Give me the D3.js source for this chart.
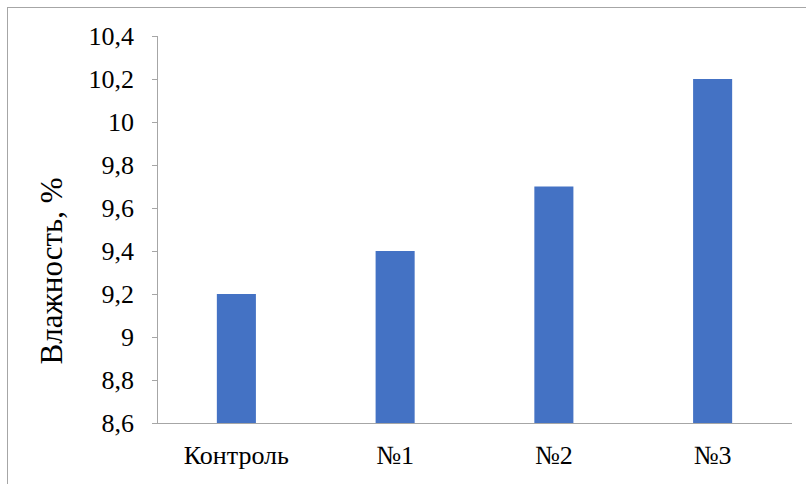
<!DOCTYPE html>
<html><head><meta charset="utf-8">
<script src="https://cdn.jsdelivr.net/npm/d3@7"></script>
<style>body{margin:0;background:#fff}svg{display:block}</style>
</head><body>
<svg id="c" width="806" height="484"></svg>
<script>
const categories = ["Контроль", "№1", "№2", "№3"];
const values = [9.2, 9.4, 9.7, 10.2];
const yTicks = [8.6, 8.8, 9.0, 9.2, 9.4, 9.6, 9.8, 10.0, 10.2, 10.4];
const yTitle = "Влажность, %";

const svg = d3.select("#c");
const W = 806, H = 484;
const m = {left: 157, right: 14, top: 36, bottom: 61};
const font = "Times New Roman";

svg.append("rect").attr("x", 7.5).attr("y", 7.5).attr("width", W).attr("height", H)
  .attr("fill", "#fff").attr("stroke", "#a6a6a6").attr("stroke-width", 1);

const x = d3.scaleBand().domain(categories).range([m.left, W - m.right]).paddingInner(0.754).paddingOuter(0.377);
const y = d3.scaleLinear().domain([8.6, 10.4]).range([H - m.bottom, m.top]);

svg.append("g").selectAll("rect").data(values).join("rect")
  .attr("x", (d, i) => x(categories[i]))
  .attr("width", x.bandwidth())
  .attr("y", d => y(d))
  .attr("height", d => y(8.6) - y(d))
  .attr("fill", "#4472c4");

const fmt = d => (Math.round(d * 10) / 10).toString().replace(".", ",");

const yg = svg.append("g");
yg.append("path").attr("fill", "none").attr("stroke", "#a6a6a6")
  .attr("d", `M${m.left + 0.5},${y(10.4)}V${y(8.6)}`);
yg.selectAll("line").data(yTicks).join("line")
  .attr("x1", m.left - 5).attr("x2", m.left).attr("y1", d => Math.round(y(d)) + 0.5).attr("y2", d => Math.round(y(d)) + 0.5)
  .attr("stroke", "#a6a6a6");
yg.selectAll("text").data(yTicks).join("text")
  .attr("x", m.left - 23).attr("y", d => y(d)).attr("dy", "0.34em")
  .attr("text-anchor", "end").attr("font-family", font).attr("font-size", 26).attr("fill", "#000")
  .text(fmt);

const xg = svg.append("g");
xg.append("path").attr("fill", "none").attr("stroke", "#a6a6a6")
  .attr("d", `M${m.left},${y(8.6) + 0.5}H${W - m.right}`);
xg.selectAll("text").data(categories).join("text")
  .attr("x", d => x(d) + x.bandwidth() / 2).attr("y", y(8.6) + 41)
  .attr("text-anchor", "middle").attr("font-family", font).attr("font-size", 26).attr("fill", "#000")
  .text(d => d);

svg.append("text").attr("transform", `translate(62,271) rotate(-90)`)
  .attr("text-anchor", "middle").attr("font-family", font).attr("font-size", 31)
  .attr("fill", "#000").text(yTitle);
</script>
</body></html>
